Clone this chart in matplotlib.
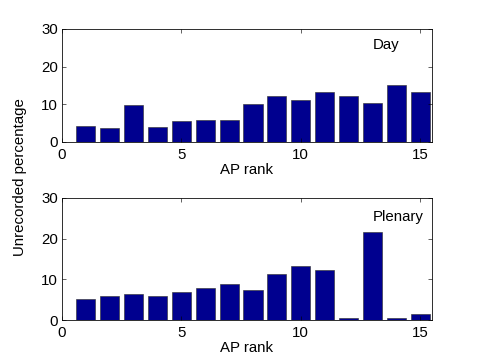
import numpy as np
import matplotlib.pyplot as plt

plt.rcParams['font.family'] = ['Liberation Sans', 'DejaVu Sans']
plt.rcParams['font.size'] = 15

# data
rank = np.arange(1, 16)
day = [4.3, 3.8, 9.8, 4.1, 5.6, 5.9, 5.8, 10.1, 12.2, 11.2, 13.3, 12.1, 10.4, 15.0, 13.4]
plenary = [5.25, 5.8, 6.3, 5.8, 6.8, 7.95, 8.85, 7.5, 11.2, 13.2, 12.4, 0.4, 21.7, 0.6, 1.4]

W, H = 478, 360
fig = plt.figure(figsize=(W / 72, H / 72), dpi=72)

bar_col = (0, 0, 0.5625)

def panel(rect, vals, label, ty):
    ax = fig.add_axes(rect)
    ax.bar(rank, vals, width=0.8, color=bar_col, edgecolor='#333333', linewidth=0.6)
    ax.set_xlim(0, 15.5)
    ax.set_ylim(0, 30)
    ax.set_xticks([0, 5, 10, 15])
    ax.set_yticks([0, 10, 20, 30])
    ax.tick_params(direction='in', top=True, right=True, length=4, width=0.6, pad=4)
    ax.tick_params(axis='x', pad=6)
    for s in ax.spines.values():
        s.set_linewidth(0.8)
    ax.set_xlabel('AP rank', labelpad=1)
    ax.text(13.0, ty, label, ha='left', va='center')
    return ax

# axes boxes in pixels: left, top, right, bottom
def rect(l, t, r, b):
    return [l / W, 1 - b / H, (r - l) / W, (b - t) / H]

panel(rect(62, 29, 432, 142), day, 'Day', 25.8)
panel(rect(62, 198, 432, 320), plenary, 'Plenary', 25.3)

fig.text(20 / W, 1 - 177 / H, 'Unrecorded percentage', rotation=90, ha='center', va='center')

fig.savefig('out.png', dpi=72, facecolor='white')
